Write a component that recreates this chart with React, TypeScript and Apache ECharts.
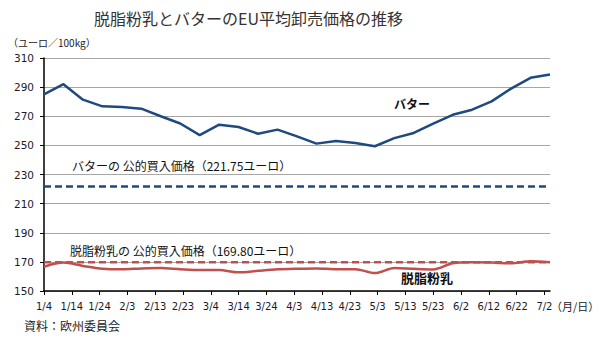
import React, { useEffect, useRef } from "react";
import * as echarts from "echarts";

// days since 2016-01-04 (weekly observations)
const weekDays = [0, 7, 14, 21, 28, 35, 42, 49, 56, 63, 70, 77, 84, 91, 98, 105, 112, 119, 126, 133, 140, 147, 154, 161, 168, 175, 182];
const butterPrice = [285, 292, 281.4, 276.8, 276.3, 275.2, 270, 265, 257, 264.2, 262.6, 258, 260.8, 256.2, 251.2, 253, 251.6, 249.4, 255, 258.5, 265, 271, 274.5, 280.2, 289, 296.4, 298.7];
const smpPrice = [166.7, 169.5, 167.2, 165.3, 164.9, 165.5, 165.8, 165, 164.4, 164.4, 162.8, 163.9, 164.9, 165.3, 165.5, 165, 165, 162.3, 165.8, 165.2, 164.8, 169, 169.7, 169.5, 169, 170.4, 169.7];
const butterIntervention = 221.75;
const smpIntervention = 169.8;
const xTickLabels = ["1/4", "1/14", "1/24", "2/3", "2/13", "2/23", "3/4", "3/14", "3/24", "4/3", "4/13", "4/23", "5/3", "5/13", "5/23", "6/2", "6/12", "6/22", "7/2"];
const yTicks = [150, 170, 190, 210, 230, 250, 270, 290, 310];

const X_MIN = 0;
const X_MAX = 182;
const JP = "'Noto Sans CJK JP', 'Noto Sans', sans-serif";
const NUM = "'DejaVu Sans', Verdana, sans-serif";

export default function App() {
  const ref = useRef<HTMLDivElement>(null);
  useEffect(() => {
    if (!ref.current) return;
    const chart = echarts.init(ref.current, undefined, { renderer: "svg" });
    const butterData = weekDays.map((d, i) => [d, butterPrice[i]]);
    const smpData = weekDays.map((d, i) => [d, smpPrice[i]]);
    chart.setOption({
      animation: false,
      backgroundColor: "#ffffff",
      grid: { left: 44, right: 50, top: 58, bottom: 50, containLabel: false },
      xAxis: {
        type: "value",
        min: X_MIN,
        max: X_MAX,
        interval: 10,
        axisLine: { show: true, onZero: false, lineStyle: { color: "#000", width: 1.5 } },
        axisTick: { show: true, length: 4, lineStyle: { color: "#000" } },
        splitLine: { show: false },
        axisLabel: {
          margin: 10,
          fontSize: 10,
          fontFamily: NUM,
          color: "#1a1a2a",
          showMaxLabel: false,
          formatter: (v: number) => (v % 10 === 0 ? xTickLabels[v / 10] ?? "" : ""),
        },
      },
      yAxis: {
        type: "value",
        min: yTicks[0],
        max: yTicks[yTicks.length - 1],
        interval: 20,
        axisLine: { show: true, lineStyle: { color: "#000", width: 1.5 } },
        axisTick: { show: true, length: 4, lineStyle: { color: "#000" } },
        splitLine: { show: true, lineStyle: { color: "#a6a6a6", width: 1 } },
        axisLabel: { margin: 10, fontSize: 10.5, fontFamily: NUM, color: "#1a1a2a" },
      },
      series: [
        {
          type: "line",
          data: [[X_MIN, butterIntervention], [X_MAX, butterIntervention]],
          symbol: "none",
          lineStyle: { color: "#1f497d", width: 2.5, type: [7, 4] },
          z: 3,
        },
        {
          type: "line",
          data: [[X_MIN, smpIntervention], [X_MAX, smpIntervention]],
          symbol: "none",
          lineStyle: { color: "#c0504d", width: 2.5, type: [7, 4] },
          z: 3,
        },
        {
          type: "line",
          data: butterData,
          symbol: "none",
          lineStyle: { color: "#1f4a80", width: 2.5 },
          z: 4,
        },
        {
          type: "line",
          data: smpData,
          symbol: "none",
          smooth: 0.3,
          lineStyle: { color: "#c0504d", width: 2.5 },
          z: 4,
        },
      ],
      graphic: [
        {
          type: "text",
          x: 94,
          y: 10,
          style: { text: "脱脂粉乳とバターのEU平均卸売価格の推移", font: `16px ${JP}`, fill: "#333" },
        },
        {
          type: "text",
          x: 8,
          y: 37,
          style: { text: "（ユーロ／100kg）", font: `10px ${JP}`, fill: "#222" },
        },
        {
          type: "text",
          x: 72,
          y: 159,
          style: { text: "バターの 公的買入価格（221.75ユーロ）", font: `12px ${JP}`, fill: "#111" },
        },
        {
          type: "text",
          x: 70,
          y: 244,
          style: { text: "脱脂粉乳の 公的買入価格（169.80ユーロ）", font: `12px ${JP}`, fill: "#111" },
        },
        {
          type: "text",
          x: 394,
          y: 97,
          style: { text: "バター", font: `bold 12px ${JP}`, fill: "#111" },
        },
        {
          type: "text",
          x: 401,
          y: 271,
          style: { text: "脱脂粉乳", font: `bold 13px ${JP}`, fill: "#111" },
        },
        {
          type: "text",
          x: 551,
          y: 300,
          style: { text: "（月/日）", font: `11px ${JP}`, fill: "#222" },
        },
        {
          type: "text",
          x: 24,
          y: 319,
          style: { text: "資料：欧州委員会", font: `12px ${JP}`, fill: "#222" },
        },
      ],
    });
    return () => chart.dispose();
  }, []);
  return (
    <div
      ref={ref}
      style={{ position: "fixed", left: 0, top: 0, width: 600, height: 341, background: "#fff" }}
    />
  );
}
